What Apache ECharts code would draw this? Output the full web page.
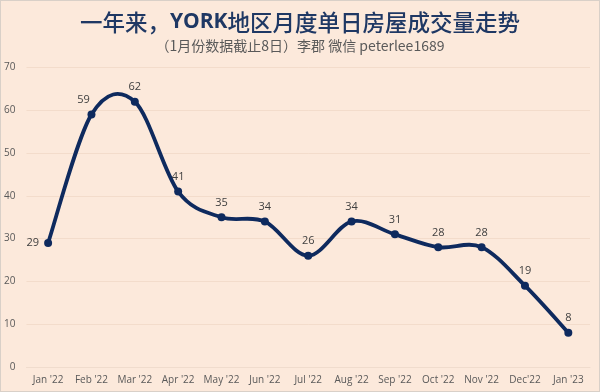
<!DOCTYPE html>
<html><head><meta charset="utf-8">
<script src="https://cdn.jsdelivr.net/npm/echarts@6/dist/echarts.min.js"></script>
<style>html,body{margin:0;padding:0;background:#fce9db}#c{width:600px;height:392px;box-sizing:border-box;border:1px solid #d9d0c8}</style>
</head><body><div id="c"></div>
<script>
var categories = ["Jan '22","Feb '22","Mar '22","Apr '22","May '22","Jun '22","Jul '22","Aug '22","Sep '22","Oct '22","Nov '22","Dec'22","Jan '23"];
var values = [29,59,62,41,35,34,26,34,31,28,28,19,8];
var yTicks = [0,10,20,30,40,50,60,70];
var titlePre = '一年来，';
var titleMid = 'YORK';
var titlePost = '地区月度单日房屋成交量走势';
var subText = '（1月份数据截止8日）李郡 微信 peterlee1689';

var chart = echarts.init(document.getElementById('c'));
var NAVY = '#0e2a5e';
var labelData = values.map(function(v,i){
  var d = {value:v};
  if(i===0) d.label = {position:'left', distance:5};
  if(i===1) d.label = {offset:[-8,0]};
  return d;
});

function renderCurve(params, api){
  if(params.dataIndex !== 0) return;
  var pts = values.map(function(v,i){ return api.coord([i, v]); });
  var n = pts.length, path = 'M' + pts[0][0] + ' ' + pts[0][1];
  for(var i=0;i<n-1;i++){
    var p0 = pts[Math.max(i-1,0)], p1 = pts[i], p2 = pts[i+1], p3 = pts[Math.min(i+2,n-1)];
    var c1x = p1[0] + (p2[0]-p0[0])/6, c1y = p1[1] + (p2[1]-p0[1])/6;
    var c2x = p2[0] - (p3[0]-p1[0])/6, c2y = p2[1] - (p3[1]-p1[1])/6;
    path += ' C' + c1x + ' ' + c1y + ' ' + c2x + ' ' + c2y + ' ' + p2[0] + ' ' + p2[1];
  }
  return {type:'path', shape:{pathData:path}, style:{fill:null, stroke:NAVY, lineWidth:3.8, lineJoin:'round', lineCap:'round'}};
}

chart.setOption({
  backgroundColor:'#fce9db',
  animation:false,
  title:{
    text:'{a|'+titlePre+'}{b|'+titleMid+'}{a|'+titlePost+'}', subtext:subText, left:'center', top:5, itemGap:5,
    textStyle:{rich:{
      a:{fontFamily:'Noto Sans CJK SC', fontSize:22.5, fontWeight:500, color:'#1f3864'},
      b:{fontFamily:'Open Sans', fontSize:21, fontWeight:'bold', color:'#1f3864'}
    }},
    subtextStyle:{fontFamily:'Noto Sans CJK SC', fontSize:14, color:'#595959'}
  },
  grid:{left:23, right:9, top:66.5, bottom:24},
  xAxis:{
    type:'category', data:categories, boundaryGap:true,
    axisLine:{show:true, lineStyle:{color:'#f0dccd'}}, axisTick:{show:false},
    axisLabel:{color:'#595959', fontSize:10, fontFamily:'Open Sans', margin:8, interval:0}
  },
  yAxis:{
    type:'value', min:yTicks[0], max:yTicks[yTicks.length-1], interval:10,
    axisLine:{show:false}, axisTick:{show:false},
    axisLabel:{color:'#595959', fontSize:10, fontFamily:'Open Sans', margin:11},
    splitLine:{lineStyle:{color:'#f3dccb', width:1}}
  },
  series:[{
    type:'custom', data:values, renderItem:renderCurve, silent:true, z:2
  },{
    type:'line', data:labelData,
    lineStyle:{width:0, opacity:0},
    itemStyle:{color:NAVY},
    symbol:'circle', symbolSize:8, z:3,
    label:{show:true, position:'top', distance:5, color:'#404040', fontSize:11, fontFamily:'Open Sans'}
  }]
});
</script></body></html>
